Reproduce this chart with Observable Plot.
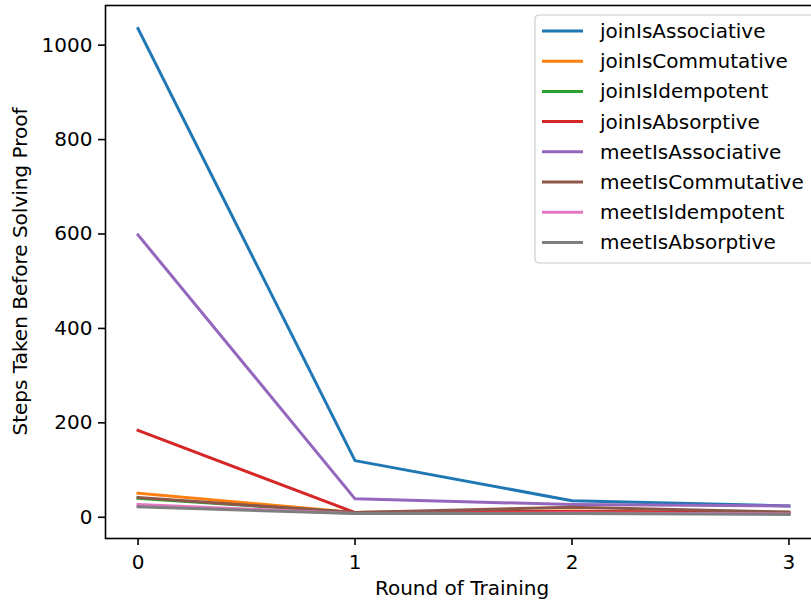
<!DOCTYPE html>
<html>
<head>
<meta charset="utf-8">
<script src="https://cdn.jsdelivr.net/npm/d3@7"></script>
<script src="https://cdn.jsdelivr.net/npm/@observablehq/plot@0.6"></script>
<style>
  html, body { margin: 0; padding: 0; background: #fff; overflow: hidden; }
  #chart svg { display: block; overflow: hidden; }
</style>
</head>
<body>
<div id="chart"></div>
<script>
const rounds = [0, 1, 2, 3];
const seriesNames = [
  "joinIsAssociative", "joinIsCommutative", "joinIsIdempotent", "joinIsAbsorptive",
  "meetIsAssociative", "meetIsCommutative", "meetIsIdempotent", "meetIsAbsorptive"
];
const joinIsAssociative  = [1035, 120, 35, 24];
const joinIsCommutative  = [51, 10, 13, 8];
const joinIsIdempotent   = [40, 10, 12, 8];
const joinIsAbsorptive   = [184, 10, 12, 9];
const meetIsAssociative  = [598, 39, 27, 24];
const meetIsCommutative  = [42, 10, 21, 11];
const meetIsIdempotent   = [27, 8, 9, 7];
const meetIsAbsorptive   = [22, 8, 8, 6];
const seriesValues = [
  joinIsAssociative, joinIsCommutative, joinIsIdempotent, joinIsAbsorptive,
  meetIsAssociative, meetIsCommutative, meetIsIdempotent, meetIsAbsorptive
];
const colors = ["#1f77b4", "#ff7f0e", "#2ca02c", "#d62728", "#9467bd", "#8c564b", "#e377c2", "#7f7f7f"];
const yTicks = [0, 200, 400, 600, 800, 1000];

const data = [];
seriesNames.forEach((name, i) => {
  rounds.forEach((r, j) => data.push({series: name, round: r, steps: seriesValues[i][j]}));
});

const W = 811, H = 604;
const mL = 105, mR = -10, mT = 5, mB = 66;
const font = "DejaVu Sans, sans-serif";
const fs = "20px";

const chart = Plot.plot({
  width: W,
  height: H,
  marginLeft: mL,
  marginRight: mR,
  marginTop: mT,
  marginBottom: mB,
  style: {fontFamily: font, fontSize: fs, color: "#000", background: "#fff", overflow: "hidden"},
  x: {domain: [-0.15, 3.15], label: null},
  y: {domain: [-45, 1084], label: null},
  color: {domain: seriesNames, range: colors},
  marks: [
    Plot.lineY(data, {x: "round", y: "steps", z: "series", stroke: "series", strokeWidth: 3, strokeLinejoin: "round", strokeLinecap: "square"}),
    Plot.frame({stroke: "#000", strokeWidth: 1.6}),
    Plot.axisX({ticks: rounds, tickFormat: d3.format("d"), tickSize: 7, tickPadding: 9, strokeWidth: 1.6, label: null, stroke: "#000"}),
    Plot.axisY({ticks: yTicks, tickFormat: d3.format("d"), tickSize: 7, tickPadding: 6, strokeWidth: 1.6, label: null, stroke: "#000"})
  ]
});

const svg = d3.select(chart);
// axis titles
svg.append("text")
  .attr("x", 462)
  .attr("y", 595)
  .attr("text-anchor", "middle")
  .attr("font-family", font)
  .attr("font-size", fs)
  .attr("fill", "#000")
  .text("Round of Training");
svg.append("text")
  .attr("transform", `translate(20, ${(mT + H - mB) / 2}) rotate(-90)`)
  .attr("text-anchor", "middle")
  .attr("dy", "0.35em")
  .attr("font-family", font)
  .attr("font-size", fs)
  .attr("fill", "#000")
  .text("Steps Taken Before Solving Proof");

// legend
const lg = svg.append("g").attr("transform", "translate(535, 15)");
lg.append("rect")
  .attr("x", 0).attr("y", 0).attr("width", 285).attr("height", 248)
  .attr("rx", 4)
  .attr("fill", "#fff").attr("fill-opacity", 0.8)
  .attr("stroke", "#ccc").attr("stroke-width", 1.2);
seriesNames.forEach((name, i) => {
  const cy = 16 + i * 30.2;
  lg.append("line")
    .attr("x1", 7).attr("x2", 48).attr("y1", cy).attr("y2", cy)
    .attr("stroke", colors[i]).attr("stroke-width", 3);
  lg.append("text")
    .attr("x", 65).attr("y", cy)
    .attr("dy", "0.35em")
    .attr("text-anchor", "start")
    .attr("font-family", font)
    .attr("font-size", fs)
    .attr("fill", "#000")
    .text(name);
});

document.getElementById("chart").appendChild(chart);
</script>
</body>
</html>
